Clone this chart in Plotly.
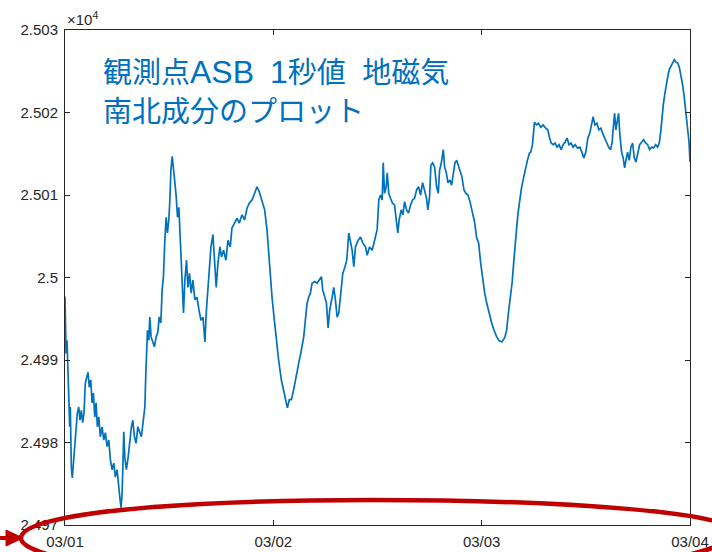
import plotly.graph_objects as go
import pandas as pd

# ---- data ----
# hours elapsed since 03/01 00:00
hours = [
 0.00,0.02,0.12,0.23,0.43,0.54,0.61,0.73,0.84,1.00,1.12,1.27,1.42,1.58,1.73,1.88,2.04,2.19,2.34,2.50,
 2.65,2.80,2.97,3.12,3.27,3.43,3.58,3.73,3.89,4.07,4.27,4.47,4.65,4.85,5.04,5.23,5.42,5.62,5.80,6.00,
 6.20,6.35,6.46,6.58,6.69,6.77,6.89,7.07,7.27,7.47,7.65,7.81,8.00,8.19,8.39,8.62,8.80,9.00,9.20,9.31,
 9.38,9.50,9.66,9.77,9.92,10.12,10.30,10.50,10.70,10.85,11.04,11.19,11.34,11.50,11.65,11.80,11.96,12.08,12.20,12.35,
 12.50,12.66,12.81,12.96,13.12,13.30,13.50,13.65,13.81,14.00,14.16,14.34,14.54,14.73,14.96,15.20,15.43,15.66,15.89,16.12,
 16.27,16.47,16.62,16.81,17.04,17.23,17.42,17.62,17.85,18.03,
 18.27,18.54,18.77,19.04,19.23,19.53,19.81,20.08,20.39,20.69,20.97,21.23,21.54,21.84,22.12,22.38,22.70,23.00,23.27,23.46,
 23.65,23.85,24.08,24.31,24.61,24.92,25.19,25.46,25.62,25.85,26.08,26.34,26.62,26.92,27.23,27.50,27.69,27.89,28.07,28.27,
 28.46,28.77,29.04,29.31,29.54,29.69,29.92,30.12,30.31,30.50,30.77,30.96,31.15,31.35,31.54,31.77,32.00,32.23,32.46,32.69,
 32.88,33.08,33.27,33.46,33.77,34.04,34.30,34.62,34.81,35.08,35.39,35.69,
 35.96,36.15,36.35,36.54,36.66,36.81,37.00,37.12,37.30,37.50,37.73,37.96,38.16,38.34,38.50,38.73,38.92,39.12,39.35,39.58,
 39.81,40.04,40.27,40.50,40.73,40.96,41.19,41.42,41.65,41.80,42.00,42.15,42.35,42.58,42.81,43.00,43.15,43.35,43.58,43.73,
 43.93,44.11,44.34,44.54,44.73,44.92,45.12,45.31,45.50,45.73,45.96,46.19,46.42,46.65,46.93,47.19,47.42,47.65,47.88,48.12,
 48.35,48.58,48.84,49.12,49.42,49.73,50.04,50.34,50.65,50.88,51.08,51.27,51.50,51.69,51.84,52.04,52.19,52.38,52.58,52.77,
 53.00,53.27,53.50,
 53.65,53.85,53.96,54.08,54.31,54.54,54.81,55.07,55.38,55.61,55.81,56.00,56.23,56.46,56.69,56.92,57.15,57.38,57.61,57.84,
 58.07,58.30,58.53,58.77,59.04,59.31,59.54,59.77,60.00,60.23,60.46,60.69,60.84,61.04,61.27,61.50,61.73,61.93,62.16,62.39,
 62.62,62.85,63.03,63.19,63.31,63.46,63.61,63.77,63.92,64.12,64.30,64.47,64.62,64.81,65.00,65.19,65.39,65.58,65.77,65.96,
 66.20,66.43,66.66,66.89,67.12,67.35,67.58,67.81,68.04,68.27,68.46,68.62,68.77,68.92,69.08,69.23,69.43,69.61,69.81,70.00,
 70.19,70.38,70.58,70.77,70.96,71.16,71.31,71.46,71.62,71.77,71.89,72.00,
]
# north-south component [nT]
values = [
 24997.7,24994.0,24990.8,24992.4,24986.0,24981.9,24984.3,24977.0,24975.7,24977.9,24979.5,24981.5,24983.6,24984.3,24982.7,24983.9,24982.4,24983.6,24987.2,24987.9,
 24988.5,24986.7,24987.6,24984.8,24986.0,24983.1,24984.8,24981.9,24983.1,24980.7,24981.9,24980.3,24981.2,24979.5,24980.3,24977.9,24976.7,24977.5,24975.8,24976.7,
 24974.2,24973.0,24972.1,24973.9,24977.9,24981.3,24978.2,24976.7,24978.2,24980.3,24981.9,24982.7,24980.7,24979.9,24981.9,24981.2,24980.7,24982.5,24984.3,24988.4,
 24991.6,24993.6,24992.4,24995.2,24992.8,24992.1,24991.6,24992.8,24993.4,24995.2,24994.5,24998.5,25000.1,25004.5,25007.3,25005.4,25007.0,25009.4,25013.0,25014.7,
 25013.4,25011.5,25009.8,25007.3,25008.5,25003.7,24998.5,24995.7,24999.7,25002.1,24998.8,25000.5,24998.1,24999.7,24997.3,24997.6,24996.1,24994.8,24995.2,24992.2,
 24995.7,24998.5,25000.5,25003.7,25005.2,25002.5,24998.8,25001.8,25003.7,25002.5,
 25003.3,25002.1,25004.5,25003.7,25006.0,25006.6,25007.2,25006.6,25007.6,25007.0,25008.4,25009.0,25009.4,25010.2,25011.0,25010.4,25009.4,25008.2,25005.8,25003.0,
 24999.3,24997.6,24995.2,24992.8,24990.0,24987.6,24986.4,24984.8,24984.2,24985.2,24985.2,24986.4,24988.2,24989.6,24991.2,24992.8,24994.8,24996.9,24997.6,24998.1,
 24999.3,24999.5,24999.3,24999.7,25000.1,24998.5,24997.6,24996.9,24993.9,24996.1,24997.6,24998.8,24997.3,24995.2,24995.7,24998.5,25000.5,25001.2,25002.1,25005.4,
 25004.2,25003.3,25001.3,25003.7,25004.5,25004.9,25004.2,25003.7,25002.7,25003.7,25003.3,25004.8,
 25005.8,25009.4,25010.0,25009.4,25013.9,25010.2,25011.0,25012.7,25010.2,25009.6,25009.0,25008.8,25007.3,25005.4,25007.0,25008.2,25007.6,25009.2,25008.2,25007.8,
 25008.8,25009.4,25009.6,25010.6,25011.0,25010.0,25011.5,25010.4,25009.6,25008.2,25009.8,25013.6,25013.9,25013.4,25011.0,25010.2,25013.0,25013.9,25015.5,25013.4,
 25012.7,25011.5,25011.8,25011.2,25012.7,25013.9,25014.2,25013.6,25013.0,25012.2,25010.6,25010.2,25010.0,25009.2,25007.9,25006.7,25004.8,25004.2,25001.8,24999.7,
 24998.1,24996.9,24995.7,24994.6,24993.6,24992.8,24992.3,24992.2,24992.7,24993.6,24995.7,24997.3,24999.3,25001.8,25004.2,25006.1,25007.8,25009.4,25010.8,25011.8,
 25013.0,25014.2,25015.1,
 25015.2,25016.1,25017.3,25018.8,25018.5,25018.7,25018.2,25018.5,25018.1,25017.9,25017.0,25016.3,25016.1,25016.3,25015.8,25016.1,25015.5,25016.1,25016.4,25016.9,
 25016.1,25016.3,25015.8,25016.1,25015.7,25015.8,25015.2,25014.5,25015.2,25016.9,25017.5,25018.8,25019.5,25018.5,25018.7,25017.9,25018.1,25017.5,25016.9,25016.4,
 25015.8,25015.5,25016.4,25018.5,25019.9,25017.9,25018.8,25019.9,25017.3,25015.2,25014.5,25013.3,25014.2,25015.2,25014.2,25015.8,25016.3,25014.5,25014.0,25014.8,
 25016.1,25016.4,25016.7,25016.3,25016.1,25015.5,25015.8,25015.7,25016.1,25015.8,25016.3,25017.6,25019.5,25020.9,25022.1,25023.3,25024.3,25025.2,25025.6,25026.0,
 25026.4,25026.1,25026.0,25025.5,25024.5,25023.3,25022.1,25020.7,25019.3,25017.6,25016.4,25014.0,
]

y_ticks = [24970, 24980, 24990, 25000, 25010, 25020, 25030]
y_tick_text = ["2.497", "2.498", "2.499", "2.5", "2.501", "2.502", "2.503"]
x_tick_dates = ["2021-03-01", "2021-03-02", "2021-03-03", "2021-03-04"]
LAT = '<span style="font-family:Liberation Sans, Arial;font-size:32px">'
title_lines = ["観測点" + LAT + "ASB\u20021</span>秒値\u2002\u200a地磁気", "南北成分のプロット"]

base = pd.Timestamp("2021-03-01")
times = [base + pd.Timedelta(hours=h) for h in hours]

AX = "#262626"
fig = go.Figure()
fig.add_trace(go.Scatter(x=times, y=values, mode="lines",
                         line=dict(color="#0072BD", width=1.7), showlegend=False,
                         hoverinfo="skip"))

L, R, T, B = 65, 22, 30, 27
W, H = 712, 552
pw, ph = W - L - R, H - T - B

def px(x):
    return (x - L) / pw

def py(y):
    return (H - B - y) / ph

# red ellipse (decoration), drawn as bezier path in paper coords
pts = [
    ("M", [(21, 538)]),
    ("C", [(21, 513), (179, 500), (372, 500)]),
    ("C", [(569, 500), (735, 513), (735, 532)]),
    ("C", [(735, 556), (569, 582), (372, 582)]),
    ("C", [(179, 582), (21, 561), (21, 538)]),
]
path = " ".join(cmd + " " + " ".join(f"{px(a):.4f},{py(b):.4f}" for a, b in p) for cmd, p in pts) + " Z"

shapes = [
    dict(type="path", xref="paper", yref="paper", path=path,
         line=dict(color="#C00000", width=4.5), layer="above"),
    dict(type="line", xref="paper", yref="paper", x0=px(-2), y0=py(538), x1=px(10), y1=py(538),
         line=dict(color="#C00000", width=4), layer="above"),
    dict(type="path", xref="paper", yref="paper",
         path=f"M {px(6):.4f},{py(530):.4f} L {px(23):.4f},{py(538):.4f} L {px(6):.4f},{py(546):.4f} Z",
         fillcolor="#C00000", line=dict(color="#C00000", width=1), layer="above"),
]

annotations = [
    dict(text="×10<sup>4</sup>", xref="paper", yref="paper", x=0, y=1, xanchor="left",
         yanchor="bottom", yshift=0, showarrow=False,
         font=dict(family="Liberation Sans, Arial", size=15, color=AX)),
    dict(text=title_lines[0], xref="paper", yref="paper", x=px(101), y=py(70),
         xanchor="left", yanchor="middle", showarrow=False,
         font=dict(family="Noto Sans CJK JP", size=29, color="#0070C0")),
    dict(text=title_lines[1], xref="paper", yref="paper", x=px(101), y=py(109),
         xanchor="left", yanchor="middle", showarrow=False,
         font=dict(family="Noto Sans CJK JP", size=29, color="#0070C0")),
]

fig.update_layout(
    width=W, height=H, margin=dict(l=L, r=R, t=T, b=B, autoexpand=False),
    paper_bgcolor="white", plot_bgcolor="white",
    font=dict(family="Liberation Sans, Arial", size=15, color=AX),
    shapes=shapes, annotations=annotations,
    xaxis=dict(type="date", range=[x_tick_dates[0], x_tick_dates[-1]],
               tickvals=x_tick_dates, tickformat="%m/%d", automargin=False,
               showline=True, mirror="ticks", linecolor=AX, linewidth=1,
               ticks="inside", ticklen=5, tickcolor=AX, showgrid=False, zeroline=False,
               ticklabelstandoff=3, tickfont=dict(size=15, color=AX)),
    yaxis=dict(range=[y_ticks[0], y_ticks[-1]], tickvals=y_ticks, ticktext=y_tick_text,
               automargin=False,
               showline=True, mirror="ticks", linecolor=AX, linewidth=1,
               ticks="inside", ticklen=5, tickcolor=AX, showgrid=False, zeroline=False,
               ticklabelstandoff=3, tickfont=dict(size=15, color=AX)),
)

fig.write_html("out.html", config={"displayModeBar": False},
               post_script="document.body.style.margin='0';document.body.style.overflow='hidden';")
